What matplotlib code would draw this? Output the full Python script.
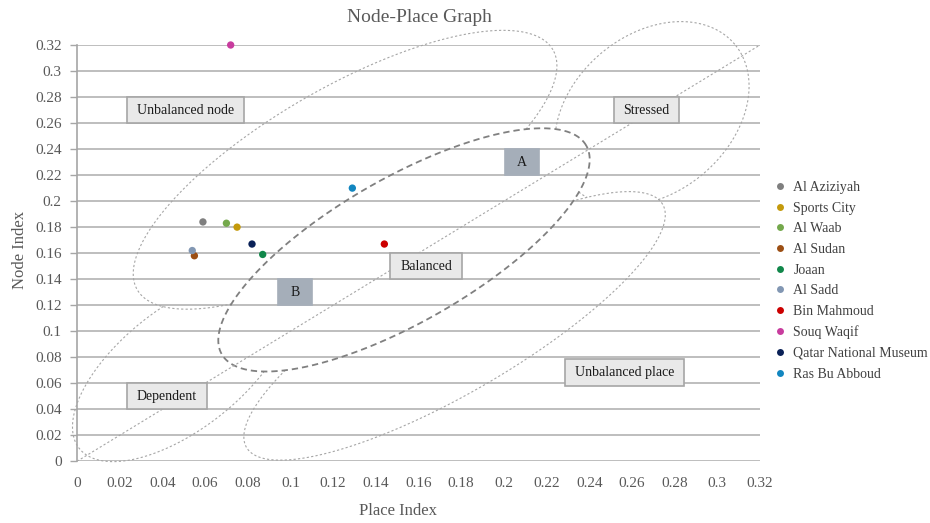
import numpy as np
import matplotlib
matplotlib.use("Agg")
import matplotlib.pyplot as plt
from matplotlib.lines import Line2D
from matplotlib.patches import Rectangle

# stations on the node-place graph
stations = ["Al Aziziyah", "Sports City", "Al Waab", "Al Sudan", "Joaan", "Al Sadd",
            "Bin Mahmoud", "Souq Waqif", "Qatar National Museum", "Ras Bu Abboud"]
place_index = [0.059, 0.075, 0.070, 0.055, 0.087, 0.054, 0.144, 0.072, 0.082, 0.129]
node_index = [0.184, 0.180, 0.183, 0.158, 0.159, 0.162, 0.167, 0.320, 0.167, 0.210]
colors = ["#7f7f7f", "#c49a0c", "#74a84c", "#9c4f14", "#11874a", "#8297b3",
          "#cc0000", "#c83c9e", "#0a2157", "#1286c0"]

ticks = np.round(np.arange(0, 0.3201, 0.02), 2)

# zone labels: (text, x0, x1, y0, y1, dark box?)
zones = [
    ("Unbalanced node", 0.0234, 0.0782, 0.26, 0.28, False),
    ("Stressed", 0.2516, 0.2820, 0.26, 0.28, False),
    ("A", 0.2005, 0.2165, 0.22, 0.24, True),
    ("B", 0.0942, 0.1101, 0.12, 0.14, True),
    ("Balanced", 0.1466, 0.1804, 0.14, 0.16, False),
    ("Dependent", 0.0234, 0.0609, 0.04, 0.06, False),
    ("Unbalanced place", 0.2286, 0.2844, 0.058, 0.0787, False),
]

# zone outlines: centre in data units, half axes in pixels, tilt in degrees
shapes = {
    "node":  (0.1256, 0.2241, 240, 82, 30),
    "bal":   (0.1532, 0.1625, 210, 72, 29.8),
    "str":   (0.2694, 0.2672, 108, 79, 40),
    "place": (0.1769, 0.1041, 241, 66, 30.3),
    "dep":   (0.0490, 0.0715, 130, 61, 38),
}
# which outlines hide part of each one
hidden_by = {"node": ["bal"], "dep": ["bal", "node"],
             "str": ["bal", "place"], "place": ["bal"]}

plt.rcParams["font.family"] = "Liberation Serif"

fig = plt.figure(figsize=(9.3, 5.23), dpi=100)
ax = fig.add_axes([77 / 930, 1 - 461.3 / 523, 683 / 930, 416.3 / 523])
ax.set_xlim(0, 0.32)
ax.set_ylim(0, 0.32)

ax.set_xticks(ticks)
ax.set_yticks(ticks)
fmt = lambda v: f"{v:g}"
ax.set_xticklabels([fmt(t) for t in ticks])
ax.set_yticklabels([fmt(t) for t in ticks])
ax.tick_params(axis="x", length=0, pad=11, labelsize=11, labelcolor="#595959")
ax.tick_params(axis="y", length=5, width=1, color="#a6a6a6", pad=6,
               labelsize=11, labelcolor="#595959")
ax.grid(axis="y", color="#b3b3b3", linewidth=1.2)
ax.set_axisbelow(True)
for s in ["top", "right", "bottom"]:
    ax.spines[s].set_visible(False)
ax.spines["left"].set_color("#a6a6a6")
ax.spines["left"].set_linewidth(1.2)


def outline(key, n=3000):
    cx, cy, a, b, ang = shapes[key]
    c = ax.transData.transform((cx, cy))
    t = np.linspace(0, 2 * np.pi, n)
    r = np.deg2rad(ang)
    x, y = a * np.cos(t), b * np.sin(t)
    return np.column_stack([c[0] + x * np.cos(r) - y * np.sin(r),
                            c[1] + x * np.sin(r) + y * np.cos(r)])


def inside(pts, key):
    cx, cy, a, b, ang = shapes[key]
    c = ax.transData.transform((cx, cy))
    r = np.deg2rad(ang)
    d = pts - c
    u = d[:, 0] * np.cos(r) + d[:, 1] * np.sin(r)
    v = -d[:, 0] * np.sin(r) + d[:, 1] * np.cos(r)
    return (u / a) ** 2 + (v / b) ** 2 < 0.995


inv = ax.transData.inverted()
for key in ["node", "str", "place", "dep"]:
    pts = outline(key)
    mask = np.zeros(len(pts), bool)
    for other in hidden_by[key]:
        mask |= inside(pts, other)
    data = inv.transform(pts)
    data[mask] = np.nan
    ax.plot(data[:, 0], data[:, 1], color="#a6a6a6", lw=0.8,
            linestyle=(0, (2, 2)), clip_on=False, zorder=2)

bal = inv.transform(outline("bal"))
ax.plot(bal[:, 0], bal[:, 1], color="#808080", lw=1.3,
        linestyle=(0, (3.5, 2.2)), clip_on=False, zorder=2)

# 45 degree balance line
ax.plot([0, 0.32], [0, 0.32], color="#a6a6a6", lw=0.8,
        linestyle=(0, (2, 2)), zorder=2)

for text, x0, x1, y0, y1, dark in zones:
    face = "#a5aeb9" if dark else "#e9e9e9"
    edge = "#a5aeb9" if dark else "#a6a6a6"
    ax.add_patch(Rectangle((x0, y0), x1 - x0, y1 - y0, facecolor=face,
                           edgecolor=edge, lw=1.2, zorder=3))
    ax.text((x0 + x1) / 2, (y0 + y1) / 2, text, ha="center", va="center",
            fontsize=10, color="#1a1a1a", zorder=4)

for x, y, c, name in zip(place_index, node_index, colors, stations):
    ax.scatter(x, y, s=28, color=c, edgecolors="none", zorder=5,
               clip_on=False, label=name)

handles = [Line2D([], [], marker="o", ls="none", markersize=5,
                  markerfacecolor=c, markeredgecolor="none") for c in colors]
fig.legend(handles, stations, loc="upper left",
           bbox_to_anchor=(774 / 930, 1 - 181 / 523), frameon=False,
           fontsize=10, labelcolor="#404040", handlelength=0.8,
           handletextpad=0.6, labelspacing=0.55, borderpad=0, borderaxespad=0)

fig.text(419 / 930, 1 - 18 / 523, "Node-Place Graph", ha="center", va="center",
         fontsize=14, color="#595959")
fig.text(398 / 930, 1 - 511 / 523, "Place Index", ha="center", va="center",
         fontsize=12, color="#595959")
fig.text(20 / 930, 1 - 250 / 523, "Node Index", ha="center", va="center",
         fontsize=12, color="#595959", rotation=90)

fig.savefig("out.png", dpi=100)
